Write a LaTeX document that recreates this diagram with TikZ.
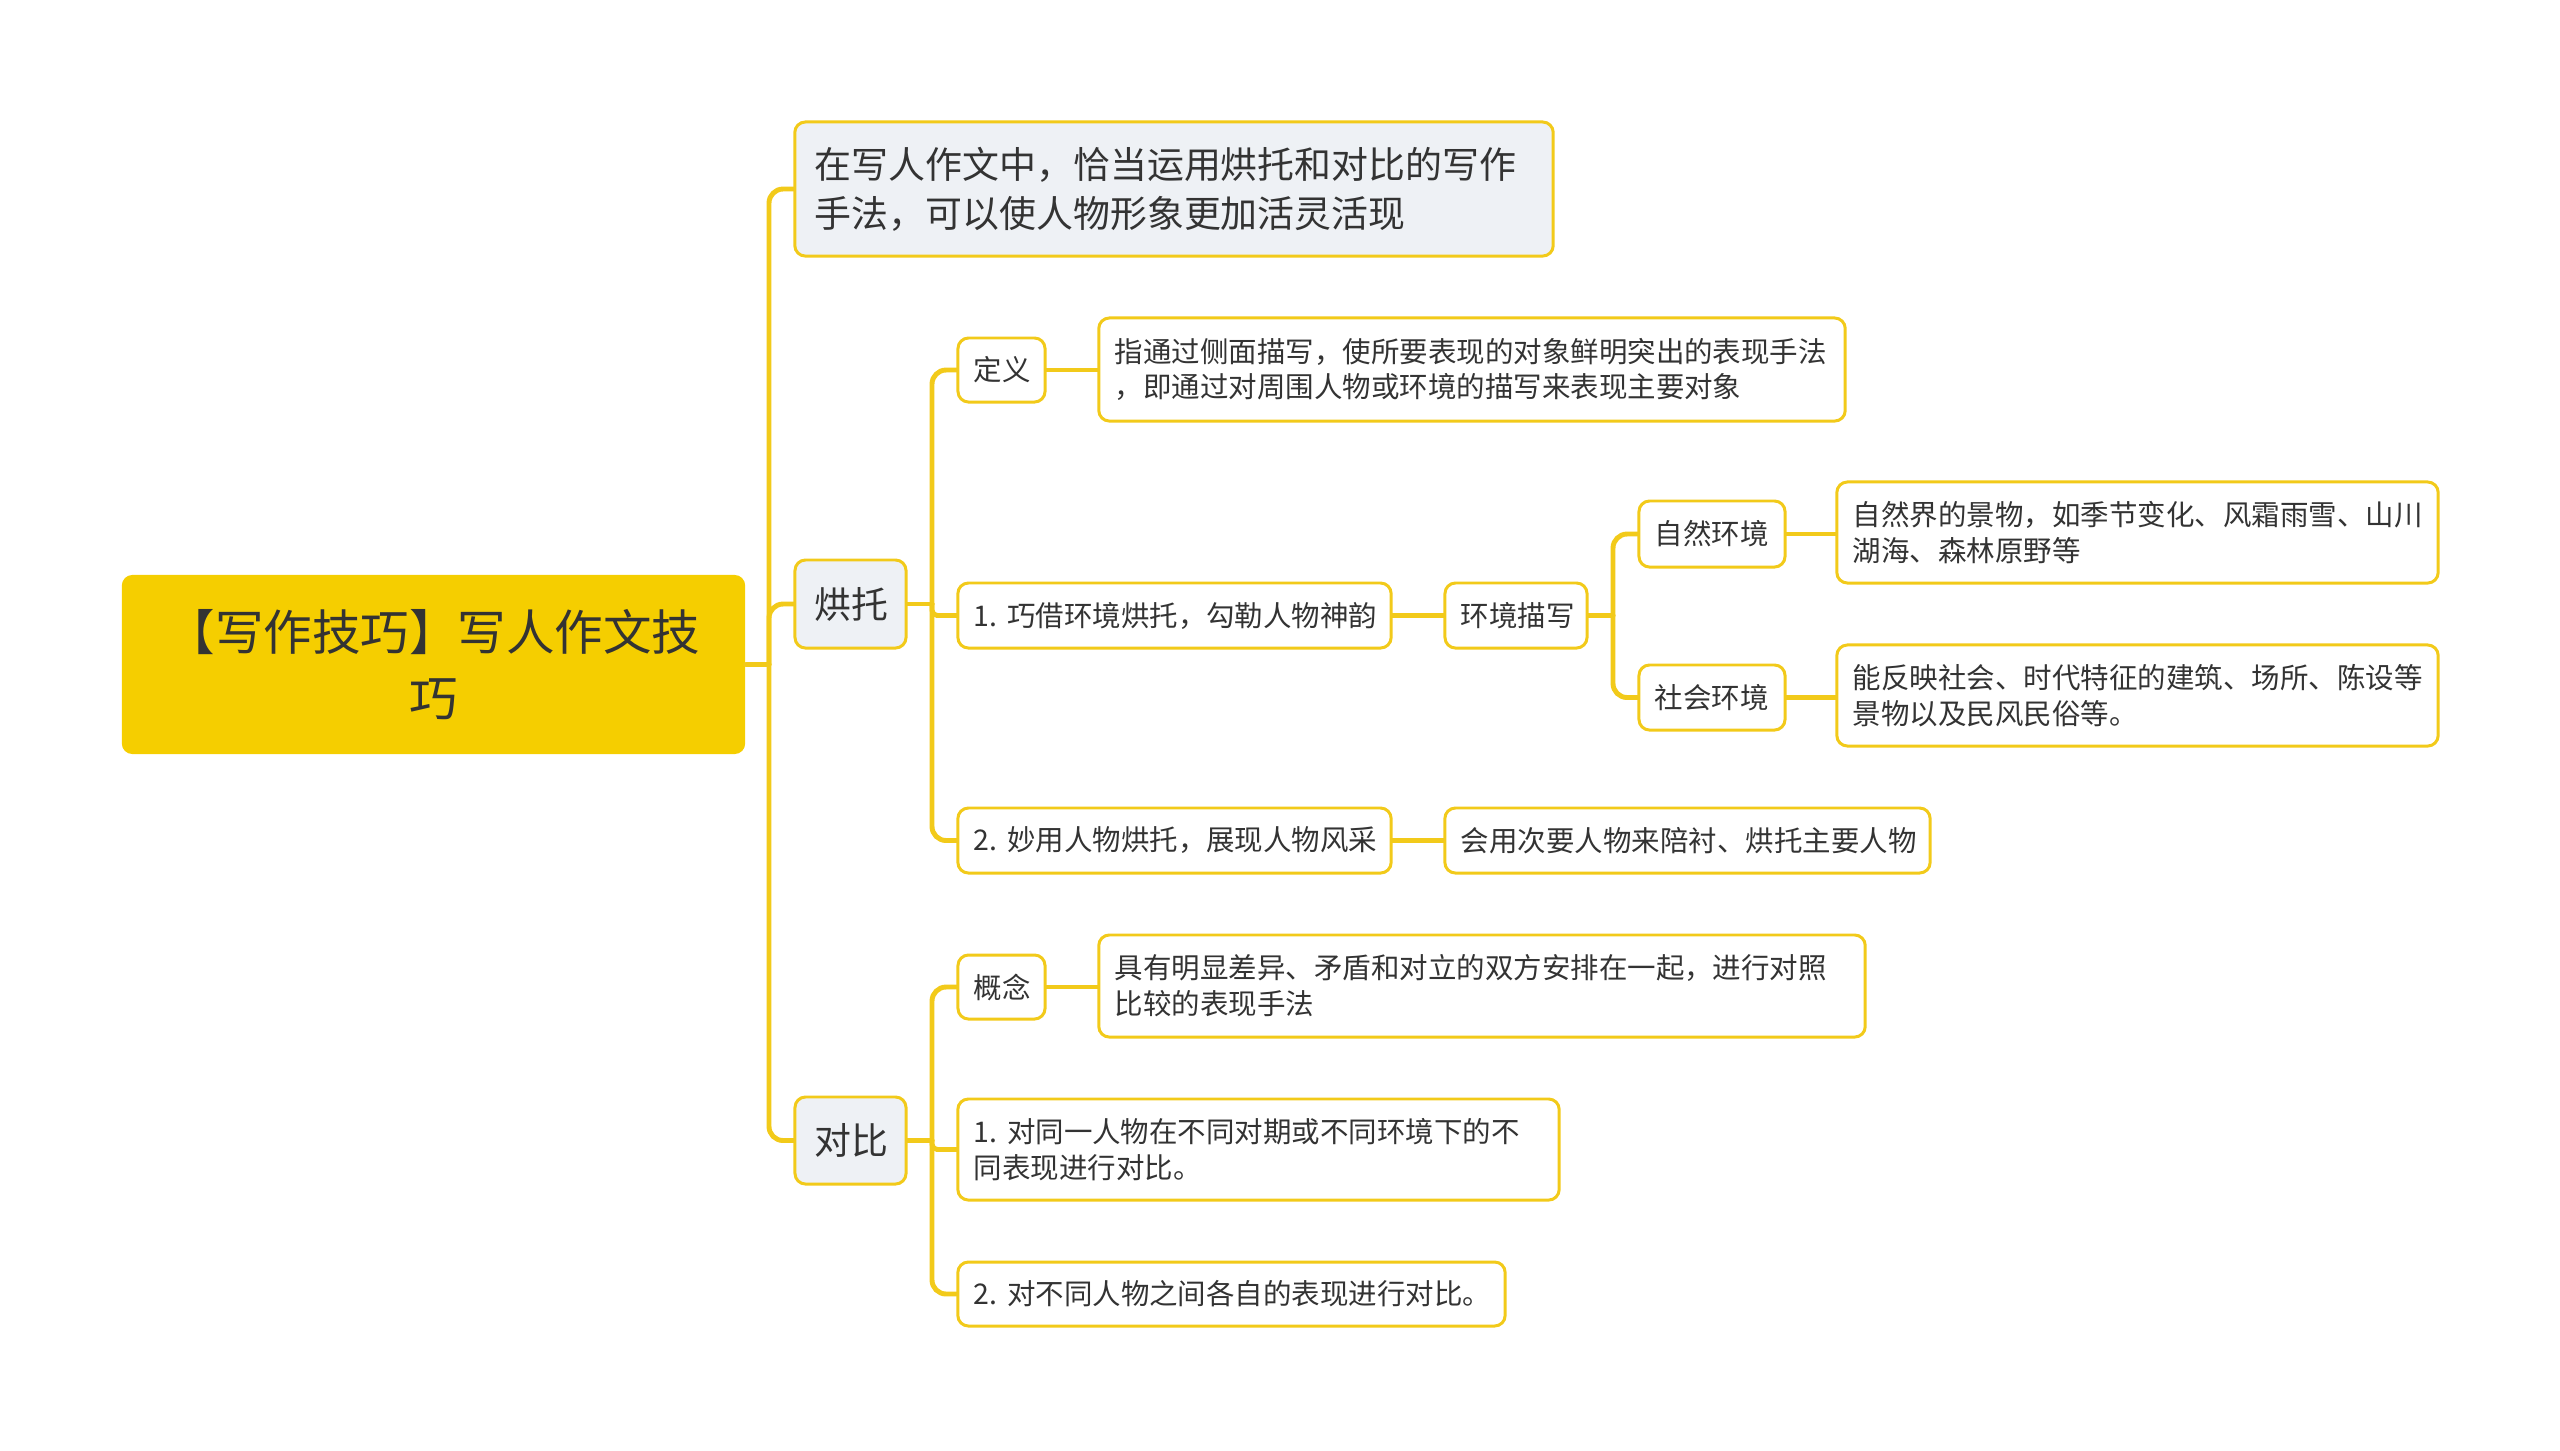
\documentclass[tikz,border=0pt]{standalone}
\usepackage{fontspec}
\setmainfont{Noto Sans CJK SC}
\definecolor{zhuse}{HTML}{F5CE00}
\definecolor{xian}{HTML}{F2CA1A}
\definecolor{huibg}{HTML}{EEF1F5}
\definecolor{wenzi}{HTML}{333333}
\tikzset{
  hezi/.style={draw=xian, line width=0.85pt, rounded corners=3pt, fill=white, align=left,
    inner xsep=0.16cm, inner ysep=0pt, text=wenzi, font=\fontsize{8.1}{10.2}\selectfont},
  dahezi/.style={hezi, fill=huibg, inner xsep=0.2cm, font=\fontsize{10.5}{13.9}\selectfont},
  lian/.style={draw=xian, line width=1.4pt, rounded corners=4pt, line cap=round},
}
\begin{document}
\begin{tikzpicture}[x=0.01cm, y=-0.01cm]
	\useasboundingbox (0,0) rectangle (2560,1450);
	% goc
	\node[fill=zhuse, rounded corners=3pt, text=wenzi, align=center, inner xsep=0pt, text width=6.23cm,
	      minimum height=1.79cm, font=\fontsize{13.8}{18.6}\selectfont] (root) at (433.5,664.5)
	      {【写作技巧】写人作文技\\巧};
	% tang 1
	\node[dahezi, text width=7.18cm, minimum height=1.34cm] (top) at (1174,189)
	      {在写人作文中，恰当运用烘托和对比的写作\\手法，可以使人物形象更加活灵活现};
	\node[dahezi, text width=0.71cm, minimum height=0.88cm] (hongtuo) at (850.5,604) {烘托};
	\node[dahezi, text width=0.71cm, minimum height=0.87cm] (duibi) at (850.5,1140.5) {对比};
	% tang 2: hong tuo
	\node[hezi, text width=0.55cm, minimum height=0.64cm] (dingyi) at (1001.5,370) {定义};
	\node[hezi, text width=7.14cm, minimum height=1.03cm] (dingyiT) at (1472,369.5)
	      {指通过侧面描写，使所要表现的对象鲜明突出的表现手法\\，即通过对周围人物或环境的描写来表现主要对象};
	\node[hezi, text width=4.01cm, minimum height=0.65cm] (qiaojie) at (1174.5,615.5) {1.~巧借环境烘托，勾勒人物神韵};
	\node[hezi, text width=1.10cm, minimum height=0.65cm] (huanjing) at (1516,615.5) {环境描写};
	\node[hezi, text width=1.14cm, minimum height=0.66cm] (ziran) at (1712,534) {自然环境};
	\node[hezi, text width=5.69cm, minimum height=1.01cm] (ziranT) at (2137.5,532.5)
	      {自然界的景物，如季节变化、风霜雨雪、山川\\湖海、森林原野等};
	\node[hezi, text width=1.14cm, minimum height=0.65cm] (shehui) at (1712,697.5) {社会环境};
	\node[hezi, text width=5.69cm, minimum height=1.01cm] (shehuiT) at (2137.5,695.5)
	      {能反映社会、时代特征的建筑、场所、陈设等\\景物以及民风民俗等。};
	\node[hezi, text width=4.01cm, minimum height=0.65cm] (miaoyong) at (1174.5,840.5) {2.~妙用人物烘托，展现人物风采};
	\node[hezi, text width=4.53cm, minimum height=0.65cm] (huiyong) at (1687.5,840.5) {会用次要人物来陪衬、烘托主要人物};
	% tang 2: doi bi
	\node[hezi, text width=0.55cm, minimum height=0.64cm] (gainian) at (1001.5,987) {概念};
	\node[hezi, text width=7.34cm, minimum height=1.02cm] (gainianT) at (1482,986)
	      {具有明显差异、矛盾和对立的双方安排在一起，进行对照\\比较的表现手法};
	\node[hezi, text width=5.69cm, minimum height=1.01cm] (db1) at (1258.5,1149.5)
	      {1.~对同一人物在不同对期或不同环境下的不\\同表现进行对比。};
	\node[hezi, text width=5.15cm, minimum height=0.64cm] (db2) at (1231.5,1294) {2.~对不同人物之间各自的表现进行对比。};
	% duong noi
	\coordinate (g1) at (769,664.5);
	\coordinate (g2) at (932,604);
	\coordinate (g3) at (1613,615.5);
	\coordinate (g4) at (932,1140.5);
	\draw[lian] (root.east) -- (g1);
	\foreach \n in {top,hongtuo,duibi} \draw[lian] (g1) |- (\n.west);
	\draw[lian] (hongtuo.east) -- (g2);
	\foreach \n in {dingyi,miaoyong} \draw[lian] (g2) |- (\n.west);
	\draw[lian, rounded corners=1.5pt] (g2) |- (qiaojie.west);
	\draw[lian] (huanjing.east) -- (g3);
	\foreach \n in {ziran,shehui} \draw[lian] (g3) |- (\n.west);
	\draw[lian] (duibi.east) -- (g4);
	\foreach \n in {gainian,db2} \draw[lian] (g4) |- (\n.west);
	\draw[lian, rounded corners=1.5pt] (g4) |- (db1.west);
	\draw[lian] (dingyi.east) -- (dingyi.east -| dingyiT.west);
	\draw[lian] (qiaojie.east) -- (huanjing.west);
	\draw[lian] (ziran.east) -- (ziran.east -| ziranT.west);
	\draw[lian] (shehui.east) -- (shehui.east -| shehuiT.west);
	\draw[lian] (miaoyong.east) -- (huiyong.west);
	\draw[lian] (gainian.east) -- (gainian.east -| gainianT.west);
\end{tikzpicture}
\end{document}
